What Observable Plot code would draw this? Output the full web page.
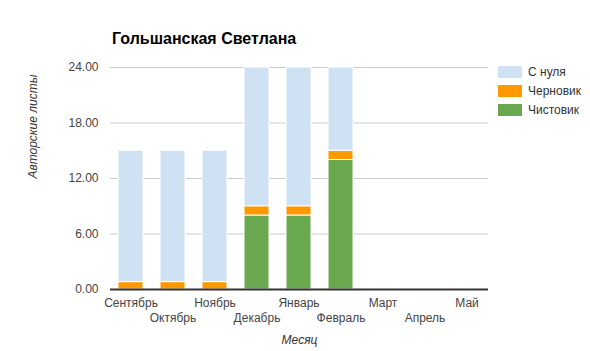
<!DOCTYPE html>
<html>
<head>
<meta charset="utf-8">
<script src="https://cdn.jsdelivr.net/npm/d3@7"></script>
<script src="https://cdn.jsdelivr.net/npm/@observablehq/plot@0.6"></script>
<style>
  body { margin: 0; background: #fff; font-family: "Liberation Sans", Arial, sans-serif; }
  #wrap { position: relative; width: 590px; height: 351px; }
  #wrap svg { position: absolute; left: 0; top: 0; }
  #title { position: absolute; left: 112px; top: 30px; font-size: 16px; font-weight: bold; color: #000; }
  .leg { position: absolute; left: 498px; font-size: 12px; color: #333; line-height: 12px; }
  .leg span { display: inline-block; width: 24px; height: 12px; vertical-align: top; margin-right: 6px; }
</style>
</head>
<body>
<div id="wrap">
  <div id="title">Гольшанская Светлана</div>
</div>
<script>
const months = ["Сентябрь", "Октябрь", "Ноябрь", "Декабрь", "Январь", "Февраль", "Март", "Апрель", "Май"];
const seriesNames = ["Чистовик", "Черновик", "С нуля"];
const seriesColors = ["#6aa84f", "#ff9900", "#cfe2f3"];
const chistovik = [0, 0, 0, 8, 8, 14, 0, 0, 0];
const chernovik = [0.8, 0.8, 0.8, 1, 1, 1, 0, 0, 0];
const sNulya   = [14.2, 14.2, 14.2, 15, 15, 9, 0, 0, 0];
const yTicks = [0, 6, 12, 18, 24];
const legendOrder = ["С нуля", "Черновик", "Чистовик"];

const valuesBySeries = [chistovik, chernovik, sNulya];
const data = [];
seriesNames.forEach((s, si) => months.forEach((m, mi) => data.push({month: m, series: s, value: valuesBySeries[si][mi]})));

const evenMonths = months.filter((d, i) => i % 2 === 0);
const oddMonths = months.filter((d, i) => i % 2 === 1);

const chart = Plot.plot({
  width: 590,
  height: 351,
  marginLeft: 110,
  marginRight: 102,
  marginTop: 67,
  marginBottom: 62,
  style: {fontFamily: "'Liberation Sans', Arial, sans-serif", fontSize: "12px", color: "#444", background: "transparent"},
  x: {domain: months, paddingInner: 0.4, paddingOuter: 0.2},
  y: {domain: [0, 24]},
  color: {domain: seriesNames, range: seriesColors},
  marks: [
    Plot.gridY(yTicks, {stroke: "#cccccc", strokeOpacity: 1}),
    Plot.axisY({ticks: yTicks, tickFormat: d3.format(".2f"), tickSize: 0, tickPadding: 12, label: null, fill: "#444"}),
    Plot.axisX({ticks: evenMonths, tickSize: 0, tickPadding: 9, label: null, fill: "#444"}),
    Plot.axisX({ticks: oddMonths, tickSize: 0, tickPadding: 24, label: null, fill: "#444"}),
    Plot.barY(data, {x: "month", y: "value", fill: "series", order: seriesNames, stroke: "white", strokeWidth: 1}),
    Plot.ruleY([0], {stroke: "#333", strokeWidth: 2}),
    Plot.text(["Месяц"], {frameAnchor: "bottom", dy: 54, fontStyle: "italic", fill: "#333", fontSize: 12}),
    Plot.text(["Авторские листы"], {frameAnchor: "left", dx: -77, rotate: -90, fontStyle: "italic", fill: "#333", fontSize: 12})
  ]
});
const wrap = document.getElementById("wrap");
wrap.insertBefore(chart, wrap.firstChild);

legendOrder.forEach((name, i) => {
  const div = document.createElement("div");
  div.className = "leg";
  div.style.top = (66 + i * 19) + "px";
  const sw = document.createElement("span");
  sw.style.background = seriesColors[seriesNames.indexOf(name)];
  div.appendChild(sw);
  div.appendChild(document.createTextNode(name));
  wrap.appendChild(div);
});
</script>
</body>
</html>
